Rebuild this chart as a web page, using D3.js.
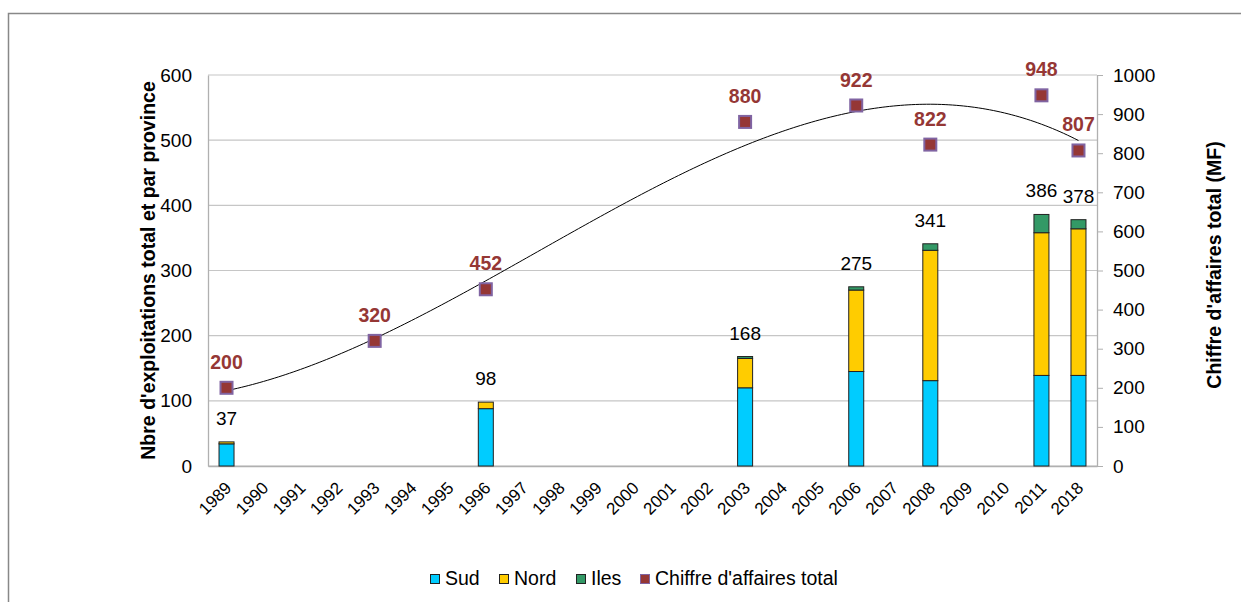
<!DOCTYPE html>
<html>
<head>
<meta charset="utf-8">
<script src="https://cdn.jsdelivr.net/npm/d3@7"></script>
<style>
  body { margin: 0; background: #fff; }
  text { font-family: Arial, "Liberation Sans", sans-serif; }
</style>
</head>
<body>
<script>
var years = ["1989", "1990", "1991", "1992", "1993", "1994", "1995", "1996", "1997", "1998",
  "1999", "2000", "2001", "2002", "2003", "2004", "2005", "2006", "2007", "2008",
  "2009", "2010", "2011", "2018"];

var barYears = ["1989", "1996", "2003", "2006", "2008", "2011", "2018"];
var sud  = [34, 88, 120, 145, 131, 139, 139];
var nord = [3, 10, 45, 125, 200, 219, 225];
var iles = [0, 0, 3, 5, 10, 28, 14];
var totals = [37, 98, 168, 275, 341, 386, 378];

var caYears = ["1989", "1993", "1996", "2003", "2006", "2008", "2011", "2018"];
var caValues = [200, 320, 452, 880, 922, 822, 948, 807];

var leftTicks = [0, 100, 200, 300, 400, 500, 600];
var rightTicks = [0, 100, 200, 300, 400, 500, 600, 700, 800, 900, 1000];

var width = 1241, height = 602;
var margin = { left: 208, right: 144, top: 75, bottom: 136 };
var plotW = width - margin.left - margin.right;
var plotH = height - margin.top - margin.bottom;

var colors = { sud: "#00CCFF", nord: "#FFCC00", iles: "#339966", ca: "#953735" };

var svg = d3.select("body").append("svg")
  .attr("width", width)
  .attr("height", height);

// outer frame (only left and top edges visible)
svg.append("rect")
  .attr("x", 8.5).attr("y", 13.5)
  .attr("width", 1300).attr("height", 700)
  .attr("fill", "none")
  .attr("stroke", "#888")
  .attr("stroke-width", 1.5);

var g = svg.append("g")
  .attr("transform", "translate(" + margin.left + "," + margin.top + ")");

var x = d3.scaleBand().domain(years).range([0, plotW]);
var yL = d3.scaleLinear().domain([0, 600]).range([plotH, 0]);
var yR = d3.scaleLinear().domain([0, 1000]).range([plotH, 0]);

// gridlines
g.selectAll(".grid")
  .data(leftTicks)
  .enter().append("line")
  .attr("x1", 0).attr("x2", plotW)
  .attr("y1", function(d) { return yL(d); })
  .attr("y2", function(d) { return yL(d); })
  .attr("stroke", "#c6c6c6")
  .attr("stroke-width", 1.2);

// left axis
var leftAxis = g.append("g")
  .call(d3.axisLeft(yL).tickValues(leftTicks).tickSize(0).tickPadding(16));
leftAxis.select(".domain").attr("stroke", "#b0b0b0").attr("stroke-width", 1.3);
leftAxis.selectAll("text").attr("font-size", 19).attr("fill", "#000");

// right axis
var rightAxis = g.append("g")
  .attr("transform", "translate(" + plotW + ",0)")
  .call(d3.axisRight(yR).tickValues(rightTicks).tickFormat(d3.format("d"))
    .tickSize(6).tickSizeOuter(0).tickPadding(10));
rightAxis.select(".domain").attr("stroke", "#b0b0b0").attr("stroke-width", 1.3);
rightAxis.selectAll("line").attr("stroke", "#b0b0b0");
rightAxis.selectAll("text").attr("font-size", 19).attr("fill", "#000");

// bottom axis
var bottomAxis = g.append("g")
  .attr("transform", "translate(0," + plotH + ")")
  .call(d3.axisBottom(x).tickSize(0).tickPadding(0));
bottomAxis.select(".domain").attr("stroke", "#b0b0b0").attr("stroke-width", 1.3);
bottomAxis.selectAll("text")
  .attr("font-size", 17)
  .attr("fill", "#000")
  .attr("text-anchor", "end")
  .attr("dy", 0)
  .attr("transform", "translate(6,23) rotate(-45)");

// stacked bars
var barData = barYears.map(function(yr, i) {
  return { year: yr, sud: sud[i], nord: nord[i], iles: iles[i], total: totals[i] };
});
var stack = d3.stack().keys(["sud", "nord", "iles"])(barData);
var barW = 15;

g.selectAll(".serie")
  .data(stack)
  .enter().append("g")
  .attr("fill", function(d) { return colors[d.key]; })
  .selectAll("rect")
  .data(function(d) { return d.filter(function(p) { return p[1] > p[0]; }); })
  .enter().append("rect")
  .attr("x", function(d) { return x(d.data.year) + x.bandwidth() / 2 - barW / 2; })
  .attr("y", function(d) { return yL(d[1]); })
  .attr("width", barW)
  .attr("height", function(d) { return yL(d[0]) - yL(d[1]); })
  .attr("stroke", "#222")
  .attr("stroke-width", 1);

g.selectAll(".total")
  .data(barData)
  .enter().append("text")
  .attr("x", function(d) { return x(d.year) + x.bandwidth() / 2; })
  .attr("y", function(d) { return yL(d.total) - 17; })
  .attr("text-anchor", "middle")
  .attr("font-size", 19)
  .attr("fill", "#000")
  .text(function(d) { return d.total; });

// polynomial trendline (cubic least squares on category index)
function polyFit(xs, ys, order) {
  var n = order + 1;
  var A = [];
  for (var r = 0; r < n; r++) {
    A.push([]);
    for (var c = 0; c <= n; c++) A[r].push(0);
  }
  xs.forEach(function(xv, k) {
    for (var r = 0; r < n; r++) {
      for (var c = 0; c < n; c++) A[r][c] += Math.pow(xv, r + c);
      A[r][n] += ys[k] * Math.pow(xv, r);
    }
  });
  for (var i = 0; i < n; i++) {
    var p = i;
    for (var j = i + 1; j < n; j++) if (Math.abs(A[j][i]) > Math.abs(A[p][i])) p = j;
    var tmp = A[i]; A[i] = A[p]; A[p] = tmp;
    for (var j2 = 0; j2 < n; j2++) {
      if (j2 === i) continue;
      var f = A[j2][i] / A[i][i];
      for (var c2 = i; c2 <= n; c2++) A[j2][c2] -= f * A[i][c2];
    }
  }
  return A.map(function(row, i) { return row[n] / row[i]; });
}

var caIdx = caYears.map(function(y) { return years.indexOf(y); });
var coef = polyFit(caIdx, caValues, 3);
var curve = d3.range(0, 23.01, 0.1).map(function(t) {
  var v = 0;
  coef.forEach(function(cf, k) { v += cf * Math.pow(t, k); });
  return [t, v];
});
var xIdx = d3.scaleLinear().domain([0, years.length - 1])
  .range([x.bandwidth() / 2, plotW - x.bandwidth() / 2]);

g.append("path")
  .datum(curve)
  .attr("fill", "none")
  .attr("stroke", "#000")
  .attr("stroke-width", 1)
  .attr("d", d3.line()
    .x(function(d) { return xIdx(d[0]); })
    .y(function(d) { return yR(d[1]); }));

// CA markers
g.selectAll(".ca")
  .data(caYears)
  .enter().append("rect")
  .attr("x", function(d) { return x(d) + x.bandwidth() / 2 - 6; })
  .attr("y", function(d, i) { return yR(caValues[i]) - 6; })
  .attr("width", 12).attr("height", 12)
  .attr("fill", colors.ca)
  .attr("stroke", "#8064A2")
  .attr("stroke-width", 2);

g.selectAll(".caLabel")
  .data(caYears)
  .enter().append("text")
  .attr("x", function(d) { return x(d) + x.bandwidth() / 2; })
  .attr("y", function(d, i) { return yR(caValues[i]) - 19; })
  .attr("text-anchor", "middle")
  .attr("font-size", 19.5)
  .attr("font-weight", "bold")
  .attr("fill", colors.ca)
  .text(function(d, i) { return caValues[i]; });

// axis titles
svg.append("text")
  .attr("transform", "translate(155," + (margin.top + plotH / 2) + ") rotate(-90)")
  .attr("text-anchor", "middle")
  .attr("font-size", 19.5)
  .attr("font-weight", "bold")
  .text("Nbre d'exploitations total et par province");

svg.append("text")
  .attr("transform", "translate(1221,265) rotate(-90)")
  .attr("text-anchor", "middle")
  .attr("font-size", 19.5)
  .attr("font-weight", "bold")
  .text("Chiffre d'affaires total (MF)");

// legend
var legendItems = [
  { label: "Sud", fill: colors.sud, stroke: "#222", x: 430 },
  { label: "Nord", fill: colors.nord, stroke: "#222", x: 499 },
  { label: "Iles", fill: colors.iles, stroke: "#222", x: 576 },
  { label: "Chiffre d'affaires total", fill: colors.ca, stroke: "#8064A2", x: 640 }
];
var legend = svg.append("g");
legend.selectAll("rect")
  .data(legendItems)
  .enter().append("rect")
  .attr("x", function(d) { return d.x + 0.5; })
  .attr("y", 574.5)
  .attr("width", 9).attr("height", 9)
  .attr("fill", function(d) { return d.fill; })
  .attr("stroke", function(d) { return d.stroke; })
  .attr("stroke-width", 1);
legend.selectAll("text")
  .data(legendItems)
  .enter().append("text")
  .attr("x", function(d) { return d.x + 15; })
  .attr("y", 585)
  .attr("font-size", 19.5)
  .text(function(d) { return d.label; });
</script>
</body>
</html>
